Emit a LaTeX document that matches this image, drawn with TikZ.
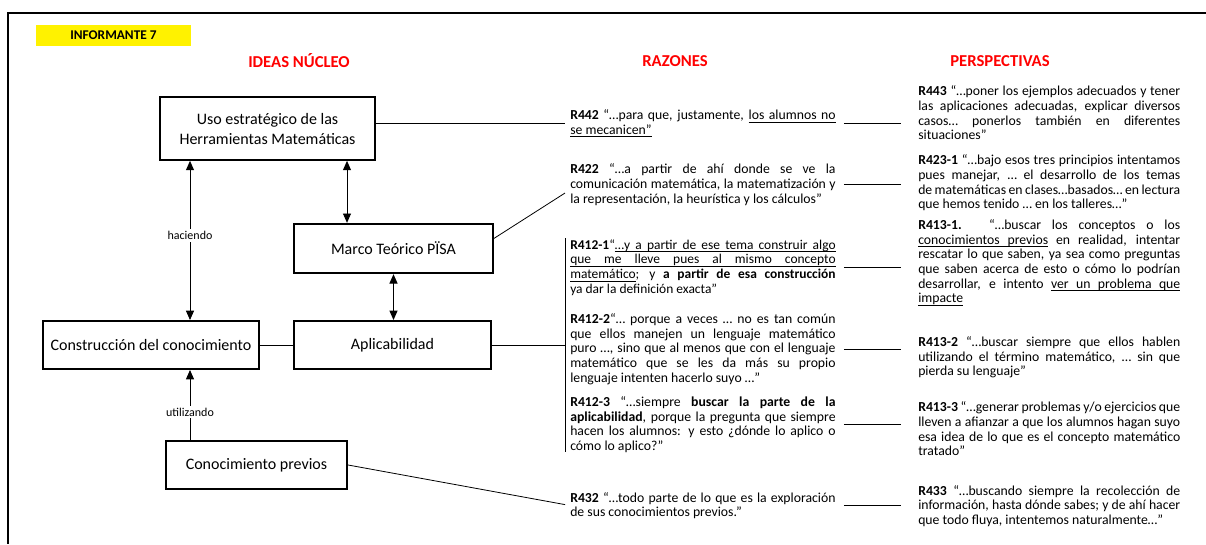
\documentclass[tikz,border=0pt]{standalone}
\usepackage{fontspec}
\setmainfont{Carlito}
\usetikzlibrary{arrows.meta}
\hyphenpenalty=10000
\exhyphenpenalty=10000

% subrayado que se puede cortar entre palabras
\newcommand\ulbox[1]{\setbox0\hbox{#1}\rlap{\rule[-2pt]{\wd0}{0.5pt}}\box0\relax}
\newcommand\ulsp{\leaders\hrule height -1.5pt depth 2pt\hskip\fontdimen2\font plus \fontdimen3\font minus \fontdimen4\font\relax}
\def\ulw#1 #2\relax{\ulbox{#1}\if\relax\detokenize{#2}\relax\else\ulsp\ulw#2\relax\fi}
\newcommand\subrayar[1]{\ulw#1 \relax}

\begin{document}
\begin{tikzpicture}[x=0.75pt, y=-0.75pt, >={Triangle[length=7pt,width=6pt]},
    idea/.style={draw, line width=1.5pt, align=center, inner sep=2pt, font=\fontsize{12}{15}\selectfont},
    cita/.style={anchor=west, inner sep=0pt, text width=199pt, align=justify, font=\fontsize{10.3}{11}\selectfont},
    rotulo/.style={fill=white, inner sep=1.5pt, font=\fontsize{9}{10}\selectfont},
    titulo/.style={text=red, font=\bfseries\fontsize{12.5}{14}\selectfont}]
    \useasboundingbox (0,0) rectangle (1206,544);
    \draw[line width=1.4pt] (1206,13) -- (8,13) -- (8,544);

    \node[fill=yellow, minimum width=116pt, minimum height=16pt, font=\bfseries\fontsize{10}{12}\selectfont] (informante) at (113.5,35.5) {INFORMANTE 7};
    \node[titulo] (ideas) at (299,61) {IDEAS NÚCLEO};
    \node[titulo] (razones) at (675,61) {RAZONES};
    \node[titulo] (perspectivas) at (1000,61) {PERSPECTIVAS};

    % ideas nucleo
    \node[idea, minimum width=161pt, minimum height=47pt] (Uso) at (267.5,128.5) {Uso estratégico de las\\Herramientas Matemáticas};
    \node[idea, minimum width=149pt, minimum height=37pt] (Marco) at (393.5,248.5) {Marco Teórico PÏSA};
    \node[idea, minimum width=162pt, minimum height=36pt] (Con) at (151,345) {Construcción del conocimiento};
    \node[idea, minimum width=148pt, minimum height=36pt] (Apl) at (392.5,345) {Aplicabilidad};
    \node[idea, minimum width=136pt, minimum height=36pt] (CP) at (256.5,465) {Conocimiento previos};

    % razones
    \node[cita] (r442) at (570,123.5) {\textbf{R442} “…para que, justamente, \subrayar{los alumnos no se mecanicen”}};
    \node[cita] (r422) at (570,184.5) {\textbf{R422} “…a partir de ahí donde se ve la comunicación matemática, la matematización y la representación, la heurística y los cálculos”};
    \node[cita, font=\fontsize{10.1}{11}\selectfont] (r4121) at (570,267.5) {\textbf{R412-1}“\subrayar{…y a partir de ese tema construir algo}\linebreak\subrayar{que me lleve pues al mismo concepto}\linebreak\subrayar{matemático}; y \textbf{a partir de esa construcción} ya dar la definición exacta”};
    \node[cita] (r4122) at (570,349) {\textbf{R412-2}“… porque a veces … no es tan común que ellos manejen un lenguaje matemático\linebreak puro …, sino que al menos que con el lenguaje matemático que se les da más su propio lenguaje intenten hacerlo suyo …”};
    \node[cita] (r4123) at (570,424.5) {\textbf{R412-3} “…siempre \textbf{buscar la parte de la aplicabilidad}, porque la pregunta que siempre hacen los alumnos: y esto ¿dónde lo aplico o cómo lo aplico?”};
    \node[cita] (r432) at (570,505.5) {\textbf{R432} “…todo parte de lo que es la exploración de sus conocimientos previos.”};

    % perspectivas
    \node[cita, text width=196.5pt] (r443) at (918,113) {\textbf{R443} “…poner los ejemplos adecuados y tener las aplicaciones adecuadas, explicar diversos casos… ponerlos también en diferentes situaciones”};
    \node[cita, text width=196.5pt] (r4231) at (918,183) {\textbf{R423-1} “…bajo esos tres principios intentamos pues manejar, … el desarrollo de los temas de matemáticas en clases…basados… en lectura que hemos tenido … en los talleres…”};
    \node[cita, text width=196.5pt] (r4131) at (918,262.5) {\textbf{R413-1.} “…buscar los conceptos o los \subrayar{conocimientos previos} en realidad, intentar rescatar lo que saben, ya sea como preguntas que saben acerca de esto o cómo lo podrían desarrollar, e intento \subrayar{ver un problema que impacte}};
    \node[cita, text width=196.5pt] (r4132) at (918,357.5) {\textbf{R413-2} “…buscar siempre que ellos hablen utilizando el término matemático, … sin que pierda su lenguaje”};
    \node[cita, text width=196.5pt] (r4133) at (918,429) {\textbf{R413-3} “…generar problemas y/o ejercicios que lleven a afianzar a que los alumnos hagan suyo esa idea de lo que es el concepto matemático tratado”};
    \node[cita, text width=196.5pt] (r433) at (918,506) {\textbf{R433} “…buscando siempre la recolección de información, hasta dónde sabes; y de ahí hacer que todo fluya, intentemos naturalmente…”};

    % flechas entre ideas
    \coordinate (colA) at (190,0);
    \coordinate (colB) at (347,0);
    \draw[<->, line width=0.7pt] (Uso.south -| colA) -- node[rotulo, pos=0.47] {haciendo} (Con.north -| colA);
    \draw[<->, line width=0.7pt] (Uso.south -| colB) -- (Marco.north -| colB);
    \draw[<->, line width=0.7pt] (Marco.south) -- (Marco.south |- Apl.north);
    \draw[line width=0.7pt] (Con.east) -- (Apl.west);
    \draw[->, line width=0.7pt] (CP.north -| colA) -- node[rotulo, pos=0.4] {utilizando} (Con.south -| colA);

    % conectores hacia las razones
    \coordinate (llaveA) at (565,238);
    \coordinate (llaveB) at (565,452);
    \draw[line width=0.6pt, shorten >=3.75pt] (Uso.east |- r442.west) -- (r442.west);
    \draw[line width=0.6pt] ([yshift=7.5pt]Marco.east) -- ([xshift=-3.75pt,yshift=-6.4pt]r422.west);
    \draw[line width=0.6pt] (llaveA) -- (llaveB);
    \draw[line width=0.6pt] (Apl.east) -- (Apl.east -| llaveA);
    \draw[line width=0.6pt, shorten >=3.75pt] (CP.east) -- (r432.west);

    % razones -> perspectivas
    \foreach \a/\b in {r442/r443, r422/r4231, r4121/r4131, r4122/r4132, r4123/r4133, r432/r433}
        \draw[line width=0.6pt, shorten <=6pt, shorten >=13pt] (\a.east) -- (\a.east -| \b.west);
\end{tikzpicture}
\end{document}
